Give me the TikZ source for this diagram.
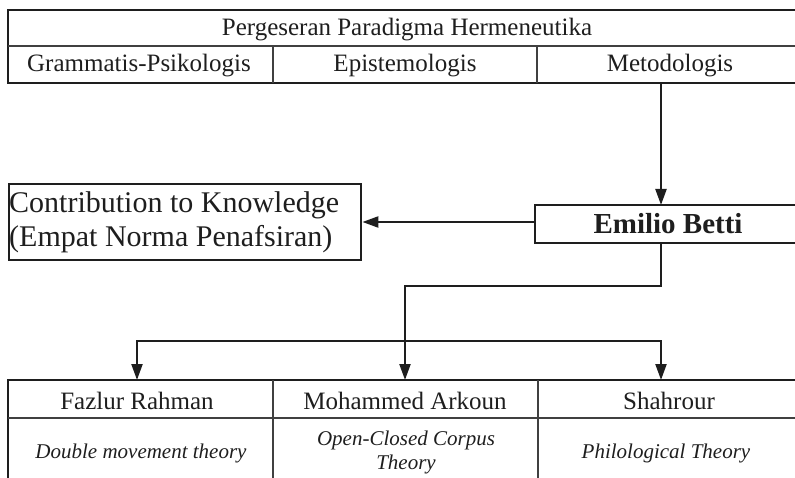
\documentclass[tikz,border=0pt]{standalone}
\usepackage{fontspec}
\setmainfont{Liberation Serif}
\usetikzlibrary{arrows.meta}
\definecolor{ink}{HTML}{1E1E1E}
\begin{document}
\begin{tikzpicture}[x=1pt,y=-1pt,
  frame/.style={line width=2.4pt, draw=ink},
  inner/.style={line width=1.3pt, draw=ink!85},
  tip/.tip={Triangle[length=16pt,width=11pt]},
  conn/.style={line width=2.2pt, draw=ink, -tip},
  conntwo/.style={line width=2.2pt, draw=ink, tip-tip},
  cell/.style={font=\fontsize{25}{29}\selectfont, text=ink, inner sep=0pt, anchor=base},
  ital/.style={font=\fontsize{21}{24}\selectfont\itshape, text=ink, inner sep=0pt, anchor=base},
  big/.style={font=\fontsize{30}{34}\selectfont, text=ink, inner sep=0pt, anchor=base west},
  boldtext/.style={font=\fontsize{29}{33}\selectfont\bfseries, text=ink, inner sep=0pt, anchor=base}]
\useasboundingbox (0,0) rectangle (795,478);

% top table
\draw[frame] (797,10) -- (8,10) -- (8,83) -- (797,83);
\draw[inner] (8,46) -- (797,46);
\draw[inner] (273,46) -- (273,83);
\draw[inner] (537,46) -- (537,83);
\node[cell] (title) at (407,36) {Pergeseran Paradigma Hermeneutika};
\node[cell] (gram) at (139,72) {Grammatis-Psikologis};
\node[cell] (epis) at (405,72) {Epistemologis};
\node[cell] (meto) at (670,72) {Metodologis};
\coordinate (metoOut) at (661,83);

% Emilio Betti box
\draw[frame] (797,205) -- (535,205) -- (535,243) -- (797,243);
\node[boldtext] (emilio) at (668,234) {Emilio Betti};
\coordinate (emTop) at (661,205);
\coordinate (emLeft) at (535,222);
\coordinate (emBot) at (661,243);

% Contribution box
\node[frame, draw, rectangle, anchor=north west, minimum width=352pt, minimum height=76pt, inner sep=0pt] (contrib) at (8,183) {};
\node[big] (contribA) at (9,213) {Contribution to Knowledge};
\node[big] (contribB) at (9,247) {(Empat Norma Penafsiran)};

% connectors
\draw[conn] (metoOut) -- (emTop);
\draw[conn] (emLeft) -- (contrib.east |- emLeft);
\coordinate (fzTop) at (137,380);
\coordinate (arTop) at (405,380);
\coordinate (shTop) at (661,380);
\coordinate (barL) at (137,341);
\coordinate (barR) at (661,341);
\draw[conn] (emBot) -- ++(0,43) -| (arTop);
\draw[conntwo] (fzTop) -- (barL) -- (barR) -- (shTop);

% bottom table
\draw[frame] (8,480) -- (8,380) -- (797,380);
\draw[inner] (8,418) -- (797,418);
\draw[inner] (273,380) -- (273,480);
\draw[inner] (538,380) -- (538,480);
\node[cell] (fazlur) at (137,409) {Fazlur Rahman};
\node[cell] (arkoun) at (405,409) {Mohammed Arkoun};
\node[cell] (shahrour) at (669,409) {Shahrour};
\node[ital] (double) at (141,458) {Double movement theory};
\node[ital] (openA) at (406,445) {Open-Closed Corpus};
\node[ital] (openB) at (406,469) {Theory};
\node[ital] (philo) at (666,458) {Philological Theory};
\end{tikzpicture}
\end{document}
